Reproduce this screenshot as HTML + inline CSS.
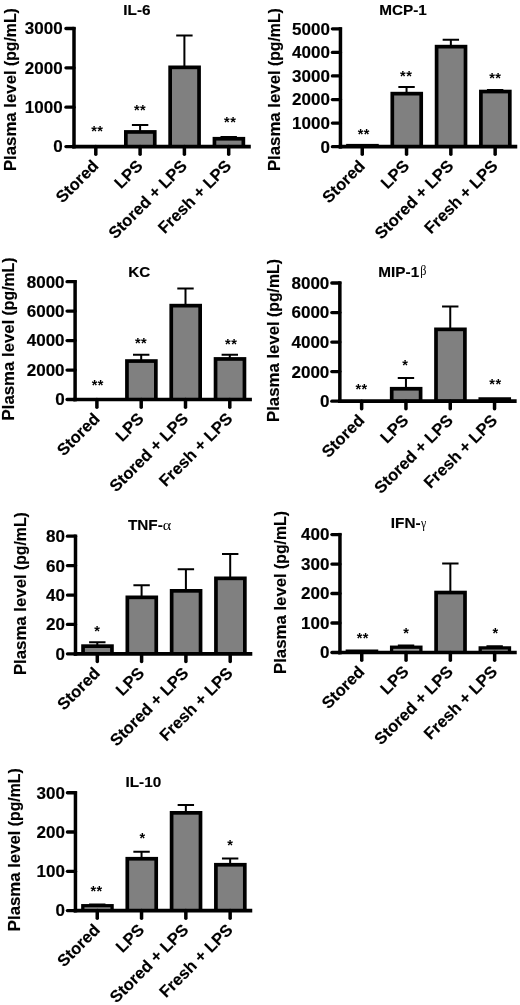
<!DOCTYPE html>
<html><head><meta charset="utf-8"><title>Cytokine plasma levels</title>
<style>
html,body{margin:0;padding:0;background:#fff;overflow:hidden;}
svg{display:block;}
svg text{font-family:"Liberation Sans", Arial, sans-serif;fill:#000;}
.b{font-weight:bold;stroke:#000;stroke-width:0.15px;}
.s{font-weight:bold;}
.n{font-weight:normal;}
</style></head><body>
<svg width="520" height="1005" viewBox="0 0 520 1005">
<rect width="520" height="1005" fill="#fff"/>
<g>
<text class="b" x="136.90" y="15.00" font-size="15.3" text-anchor="middle">IL-6</text>
<text class="b" font-size="16.4" text-anchor="start" transform="translate(16.10,171.10) rotate(-90) scale(1.024,1)">Plasma level</text>
<text class="b" font-size="16.4" text-anchor="end" transform="translate(16.10,8.20) rotate(-90) scale(0.964,1)">(pg/mL)</text>
<text class="s" x="97.30" y="135.60" font-size="14.5" text-anchor="middle" letter-spacing="0.5">**</text>
<path d="M95.80 146.55V154.20" stroke="#000" stroke-width="3.50" stroke-linecap="round"/>
<text class="b" font-size="16.5" text-anchor="end" transform="translate(99.50,166.85) rotate(-45)">Stored</text>
<path d="M140.10 131.10V125.00M131.90 125.00H148.30" stroke="#000" stroke-width="2.0" fill="none"/>
<rect x="124.00" y="130.10" width="32.60" height="16.45" fill="#000"/>
<rect x="127.70" y="133.80" width="25.20" height="11.20" fill="#808080"/>
<text class="s" x="140.10" y="114.50" font-size="14.5" text-anchor="middle" letter-spacing="0.5">**</text>
<path d="M140.10 146.55V154.20" stroke="#000" stroke-width="3.50" stroke-linecap="round"/>
<text class="b" font-size="16.5" text-anchor="end" transform="translate(143.80,166.85) rotate(-45)">LPS</text>
<path d="M184.40 66.50V35.60M176.20 35.60H192.60" stroke="#000" stroke-width="2.0" fill="none"/>
<rect x="168.30" y="65.50" width="32.60" height="81.05" fill="#000"/>
<rect x="172.00" y="69.20" width="25.20" height="75.80" fill="#808080"/>
<path d="M184.40 146.55V154.20" stroke="#000" stroke-width="3.50" stroke-linecap="round"/>
<text class="b" font-size="16.5" text-anchor="end" transform="translate(188.10,166.85) rotate(-45)">Stored + LPS</text>
<path d="M228.70 137.90V137.10M220.50 137.10H236.90" stroke="#000" stroke-width="2.0" fill="none"/>
<rect x="212.60" y="136.90" width="32.60" height="9.65" fill="#000"/>
<rect x="216.30" y="140.60" width="25.20" height="4.40" fill="#808080"/>
<text class="s" x="230.20" y="127.00" font-size="14.5" text-anchor="middle" letter-spacing="0.5">**</text>
<path d="M228.70 146.55V154.20" stroke="#000" stroke-width="3.50" stroke-linecap="round"/>
<text class="b" font-size="16.5" text-anchor="end" transform="translate(232.40,166.85) rotate(-45)">Fresh + LPS</text>
<path d="M74.00 26.85V148.40" stroke="#000" stroke-width="3.50" fill="none"/>
<path d="M72.25 146.55H250.80" stroke="#000" stroke-width="3.70" fill="none"/>
<path d="M65.95 146.55H74.00" stroke="#000" stroke-width="3.30" stroke-linecap="round"/>
<text class="b" font-size="16.0" text-anchor="end" transform="translate(62.70,152.45) scale(1.065,1)">0</text>
<path d="M65.95 107.20H74.00" stroke="#000" stroke-width="3.30" stroke-linecap="round"/>
<text class="b" font-size="16.0" text-anchor="end" transform="translate(62.70,113.10) scale(1.065,1)">1000</text>
<path d="M65.95 67.85H74.00" stroke="#000" stroke-width="3.30" stroke-linecap="round"/>
<text class="b" font-size="16.0" text-anchor="end" transform="translate(62.70,73.75) scale(1.065,1)">2000</text>
<path d="M65.95 28.50H74.00" stroke="#000" stroke-width="3.30" stroke-linecap="round"/>
<text class="b" font-size="16.0" text-anchor="end" transform="translate(62.70,34.40) scale(1.065,1)">3000</text>
</g>
<g>
<text class="b" x="403.00" y="15.00" font-size="15.3" text-anchor="middle">MCP-1</text>
<text class="b" font-size="16.4" text-anchor="start" transform="translate(279.60,171.10) rotate(-90) scale(1.024,1)">Plasma level</text>
<text class="b" font-size="16.4" text-anchor="end" transform="translate(279.60,8.20) rotate(-90) scale(0.964,1)">(pg/mL)</text>
<rect x="346.15" y="143.90" width="32.60" height="2.80" fill="#000"/>
<text class="s" x="363.80" y="139.40" font-size="14.5" text-anchor="middle" letter-spacing="0.5">**</text>
<path d="M362.25 146.70V154.35" stroke="#000" stroke-width="3.50" stroke-linecap="round"/>
<text class="b" font-size="16.5" text-anchor="end" transform="translate(365.95,167.00) rotate(-45)">Stored</text>
<path d="M406.55 92.80V87.00M398.35 87.00H414.75" stroke="#000" stroke-width="2.0" fill="none"/>
<rect x="390.45" y="91.80" width="32.60" height="54.90" fill="#000"/>
<rect x="394.15" y="95.50" width="25.20" height="49.65" fill="#808080"/>
<text class="s" x="406.20" y="81.00" font-size="14.5" text-anchor="middle" letter-spacing="0.5">**</text>
<path d="M406.55 146.70V154.35" stroke="#000" stroke-width="3.50" stroke-linecap="round"/>
<text class="b" font-size="16.5" text-anchor="end" transform="translate(410.25,167.00) rotate(-45)">LPS</text>
<path d="M450.85 45.80V39.70M442.65 39.70H459.05" stroke="#000" stroke-width="2.0" fill="none"/>
<rect x="434.75" y="44.80" width="32.60" height="101.90" fill="#000"/>
<rect x="438.45" y="48.50" width="25.20" height="96.65" fill="#808080"/>
<path d="M450.85 146.70V154.35" stroke="#000" stroke-width="3.50" stroke-linecap="round"/>
<text class="b" font-size="16.5" text-anchor="end" transform="translate(454.55,167.00) rotate(-45)">Stored + LPS</text>
<path d="M495.15 90.70V89.90M486.95 89.90H503.35" stroke="#000" stroke-width="2.0" fill="none"/>
<rect x="479.05" y="89.70" width="32.60" height="57.00" fill="#000"/>
<rect x="482.75" y="93.40" width="25.20" height="51.75" fill="#808080"/>
<text class="s" x="495.30" y="82.70" font-size="14.5" text-anchor="middle" letter-spacing="0.5">**</text>
<path d="M495.15 146.70V154.35" stroke="#000" stroke-width="3.50" stroke-linecap="round"/>
<text class="b" font-size="16.5" text-anchor="end" transform="translate(498.85,167.00) rotate(-45)">Fresh + LPS</text>
<path d="M340.45 27.15V148.55" stroke="#000" stroke-width="3.50" fill="none"/>
<path d="M338.70 146.70H517.25" stroke="#000" stroke-width="3.70" fill="none"/>
<path d="M332.40 146.70H340.45" stroke="#000" stroke-width="3.30" stroke-linecap="round"/>
<text class="b" font-size="16.0" text-anchor="end" transform="translate(329.95,152.60) scale(1.065,1)">0</text>
<path d="M332.40 123.12H340.45" stroke="#000" stroke-width="3.30" stroke-linecap="round"/>
<text class="b" font-size="16.0" text-anchor="end" transform="translate(329.95,129.02) scale(1.065,1)">1000</text>
<path d="M332.40 99.54H340.45" stroke="#000" stroke-width="3.30" stroke-linecap="round"/>
<text class="b" font-size="16.0" text-anchor="end" transform="translate(329.95,105.44) scale(1.065,1)">2000</text>
<path d="M332.40 75.96H340.45" stroke="#000" stroke-width="3.30" stroke-linecap="round"/>
<text class="b" font-size="16.0" text-anchor="end" transform="translate(329.95,81.86) scale(1.065,1)">3000</text>
<path d="M332.40 52.38H340.45" stroke="#000" stroke-width="3.30" stroke-linecap="round"/>
<text class="b" font-size="16.0" text-anchor="end" transform="translate(329.95,58.28) scale(1.065,1)">4000</text>
<path d="M332.40 28.80H340.45" stroke="#000" stroke-width="3.30" stroke-linecap="round"/>
<text class="b" font-size="16.0" text-anchor="end" transform="translate(329.95,34.70) scale(1.065,1)">5000</text>
</g>
<g>
<text class="b" x="139.25" y="277.30" font-size="15.3" text-anchor="middle">KC</text>
<text class="b" font-size="16.4" text-anchor="start" transform="translate(14.30,420.40) rotate(-90) scale(1.024,1)">Plasma level</text>
<text class="b" font-size="16.4" text-anchor="end" transform="translate(14.30,257.50) rotate(-90) scale(0.964,1)">(pg/mL)</text>
<text class="s" x="97.80" y="389.50" font-size="14.5" text-anchor="middle" letter-spacing="0.5">**</text>
<path d="M96.90 399.50V407.15" stroke="#000" stroke-width="3.50" stroke-linecap="round"/>
<text class="b" font-size="16.5" text-anchor="end" transform="translate(100.60,419.80) rotate(-45)">Stored</text>
<path d="M141.20 360.20V354.70M133.00 354.70H149.40" stroke="#000" stroke-width="2.0" fill="none"/>
<rect x="125.10" y="359.20" width="32.60" height="40.30" fill="#000"/>
<rect x="128.80" y="362.90" width="25.20" height="35.05" fill="#808080"/>
<text class="s" x="141.10" y="347.60" font-size="14.5" text-anchor="middle" letter-spacing="0.5">**</text>
<path d="M141.20 399.50V407.15" stroke="#000" stroke-width="3.50" stroke-linecap="round"/>
<text class="b" font-size="16.5" text-anchor="end" transform="translate(144.90,419.80) rotate(-45)">LPS</text>
<path d="M185.50 304.80V288.40M177.30 288.40H193.70" stroke="#000" stroke-width="2.0" fill="none"/>
<rect x="169.40" y="303.80" width="32.60" height="95.70" fill="#000"/>
<rect x="173.10" y="307.50" width="25.20" height="90.45" fill="#808080"/>
<path d="M185.50 399.50V407.15" stroke="#000" stroke-width="3.50" stroke-linecap="round"/>
<text class="b" font-size="16.5" text-anchor="end" transform="translate(189.20,419.80) rotate(-45)">Stored + LPS</text>
<path d="M229.80 358.10V354.70M221.60 354.70H238.00" stroke="#000" stroke-width="2.0" fill="none"/>
<rect x="213.70" y="357.10" width="32.60" height="42.40" fill="#000"/>
<rect x="217.40" y="360.80" width="25.20" height="37.15" fill="#808080"/>
<text class="s" x="231.20" y="348.90" font-size="14.5" text-anchor="middle" letter-spacing="0.5">**</text>
<path d="M229.80 399.50V407.15" stroke="#000" stroke-width="3.50" stroke-linecap="round"/>
<text class="b" font-size="16.5" text-anchor="end" transform="translate(233.50,419.80) rotate(-45)">Fresh + LPS</text>
<path d="M75.10 280.00V401.35" stroke="#000" stroke-width="3.50" fill="none"/>
<path d="M73.35 399.50H251.90" stroke="#000" stroke-width="3.70" fill="none"/>
<path d="M67.05 399.50H75.10" stroke="#000" stroke-width="3.30" stroke-linecap="round"/>
<text class="b" font-size="16.0" text-anchor="end" transform="translate(64.60,405.40) scale(1.065,1)">0</text>
<path d="M67.05 370.04H75.10" stroke="#000" stroke-width="3.30" stroke-linecap="round"/>
<text class="b" font-size="16.0" text-anchor="end" transform="translate(64.60,375.94) scale(1.065,1)">2000</text>
<path d="M67.05 340.57H75.10" stroke="#000" stroke-width="3.30" stroke-linecap="round"/>
<text class="b" font-size="16.0" text-anchor="end" transform="translate(64.60,346.47) scale(1.065,1)">4000</text>
<path d="M67.05 311.11H75.10" stroke="#000" stroke-width="3.30" stroke-linecap="round"/>
<text class="b" font-size="16.0" text-anchor="end" transform="translate(64.60,317.01) scale(1.065,1)">6000</text>
<path d="M67.05 281.65H75.10" stroke="#000" stroke-width="3.30" stroke-linecap="round"/>
<text class="b" font-size="16.0" text-anchor="end" transform="translate(64.60,287.55) scale(1.065,1)">8000</text>
</g>
<g>
<text class="b" x="398.75" y="276.50" font-size="15.3" text-anchor="middle">MIP-1</text>
<text class="n" font-size="14.3" text-anchor="start" style="font-family:&quot;Liberation Serif&quot;,serif" transform="translate(420.30,275.40) scale(0.850,1)">β</text>
<text class="b" font-size="16.4" text-anchor="start" transform="translate(279.30,422.00) rotate(-90) scale(1.024,1)">Plasma level</text>
<text class="b" font-size="16.4" text-anchor="end" transform="translate(279.30,259.10) rotate(-90) scale(0.964,1)">(pg/mL)</text>
<text class="s" x="361.60" y="394.00" font-size="14.5" text-anchor="middle" letter-spacing="0.5">**</text>
<path d="M361.65 401.15V408.80" stroke="#000" stroke-width="3.50" stroke-linecap="round"/>
<text class="b" font-size="16.5" text-anchor="end" transform="translate(365.35,421.45) rotate(-45)">Stored</text>
<path d="M405.95 387.90V378.00M397.75 378.00H414.15" stroke="#000" stroke-width="2.0" fill="none"/>
<rect x="389.85" y="386.90" width="32.60" height="14.25" fill="#000"/>
<rect x="393.55" y="390.60" width="25.20" height="9.00" fill="#808080"/>
<text class="s" x="405.30" y="370.00" font-size="14.5" text-anchor="middle" letter-spacing="0.5">*</text>
<path d="M405.95 401.15V408.80" stroke="#000" stroke-width="3.50" stroke-linecap="round"/>
<text class="b" font-size="16.5" text-anchor="end" transform="translate(409.65,421.45) rotate(-45)">LPS</text>
<path d="M450.25 328.50V306.60M442.05 306.60H458.45" stroke="#000" stroke-width="2.0" fill="none"/>
<rect x="434.15" y="327.50" width="32.60" height="73.65" fill="#000"/>
<rect x="437.85" y="331.20" width="25.20" height="68.40" fill="#808080"/>
<path d="M450.25 401.15V408.80" stroke="#000" stroke-width="3.50" stroke-linecap="round"/>
<text class="b" font-size="16.5" text-anchor="end" transform="translate(453.95,421.45) rotate(-45)">Stored + LPS</text>
<rect x="478.45" y="397.25" width="32.60" height="3.90" fill="#000"/>
<text class="s" x="495.50" y="388.60" font-size="14.5" text-anchor="middle" letter-spacing="0.5">**</text>
<path d="M494.55 401.15V408.80" stroke="#000" stroke-width="3.50" stroke-linecap="round"/>
<text class="b" font-size="16.5" text-anchor="end" transform="translate(498.25,421.45) rotate(-45)">Fresh + LPS</text>
<path d="M339.85 281.35V403.00" stroke="#000" stroke-width="3.50" fill="none"/>
<path d="M338.10 401.15H516.65" stroke="#000" stroke-width="3.70" fill="none"/>
<path d="M331.80 401.15H339.85" stroke="#000" stroke-width="3.30" stroke-linecap="round"/>
<text class="b" font-size="16.0" text-anchor="end" transform="translate(329.35,407.05) scale(1.065,1)">0</text>
<path d="M331.80 371.61H339.85" stroke="#000" stroke-width="3.30" stroke-linecap="round"/>
<text class="b" font-size="16.0" text-anchor="end" transform="translate(329.35,377.51) scale(1.065,1)">2000</text>
<path d="M331.80 342.07H339.85" stroke="#000" stroke-width="3.30" stroke-linecap="round"/>
<text class="b" font-size="16.0" text-anchor="end" transform="translate(329.35,347.97) scale(1.065,1)">4000</text>
<path d="M331.80 312.54H339.85" stroke="#000" stroke-width="3.30" stroke-linecap="round"/>
<text class="b" font-size="16.0" text-anchor="end" transform="translate(329.35,318.44) scale(1.065,1)">6000</text>
<path d="M331.80 283.00H339.85" stroke="#000" stroke-width="3.30" stroke-linecap="round"/>
<text class="b" font-size="16.0" text-anchor="end" transform="translate(329.35,288.90) scale(1.065,1)">8000</text>
</g>
<g>
<text class="b" x="145.35" y="530.40" font-size="15.3" text-anchor="middle">TNF-</text>
<text class="n" font-size="14.0" text-anchor="start" style="font-family:&quot;Liberation Serif&quot;,serif" transform="translate(162.80,530.40) scale(1.150,1)">α</text>
<text class="b" font-size="16.4" text-anchor="start" transform="translate(26.00,675.10) rotate(-90) scale(1.024,1)">Plasma level</text>
<text class="b" font-size="16.4" text-anchor="end" transform="translate(26.00,512.20) rotate(-90) scale(0.964,1)">(pg/mL)</text>
<path d="M97.30 645.30V642.20M89.10 642.20H105.50" stroke="#000" stroke-width="2.0" fill="none"/>
<rect x="81.20" y="644.30" width="32.60" height="9.55" fill="#000"/>
<rect x="84.90" y="648.00" width="25.20" height="4.30" fill="#808080"/>
<text class="s" x="97.40" y="636.20" font-size="14.5" text-anchor="middle" letter-spacing="0.5">*</text>
<path d="M97.30 653.85V661.50" stroke="#000" stroke-width="3.50" stroke-linecap="round"/>
<text class="b" font-size="16.5" text-anchor="end" transform="translate(101.00,674.15) rotate(-45)">Stored</text>
<path d="M141.60 596.50V585.30M133.40 585.30H149.80" stroke="#000" stroke-width="2.0" fill="none"/>
<rect x="125.50" y="595.50" width="32.60" height="58.35" fill="#000"/>
<rect x="129.20" y="599.20" width="25.20" height="53.10" fill="#808080"/>
<path d="M141.60 653.85V661.50" stroke="#000" stroke-width="3.50" stroke-linecap="round"/>
<text class="b" font-size="16.5" text-anchor="end" transform="translate(145.30,674.15) rotate(-45)">LPS</text>
<path d="M185.90 590.00V569.20M177.70 569.20H194.10" stroke="#000" stroke-width="2.0" fill="none"/>
<rect x="169.80" y="589.00" width="32.60" height="64.85" fill="#000"/>
<rect x="173.50" y="592.70" width="25.20" height="59.60" fill="#808080"/>
<path d="M185.90 653.85V661.50" stroke="#000" stroke-width="3.50" stroke-linecap="round"/>
<text class="b" font-size="16.5" text-anchor="end" transform="translate(189.60,674.15) rotate(-45)">Stored + LPS</text>
<path d="M230.20 577.50V553.90M222.00 553.90H238.40" stroke="#000" stroke-width="2.0" fill="none"/>
<rect x="214.10" y="576.50" width="32.60" height="77.35" fill="#000"/>
<rect x="217.80" y="580.20" width="25.20" height="72.10" fill="#808080"/>
<path d="M230.20 653.85V661.50" stroke="#000" stroke-width="3.50" stroke-linecap="round"/>
<text class="b" font-size="16.5" text-anchor="end" transform="translate(233.90,674.15) rotate(-45)">Fresh + LPS</text>
<path d="M75.50 534.55V655.70" stroke="#000" stroke-width="3.50" fill="none"/>
<path d="M73.75 653.85H252.30" stroke="#000" stroke-width="3.70" fill="none"/>
<path d="M67.45 653.85H75.50" stroke="#000" stroke-width="3.30" stroke-linecap="round"/>
<text class="b" font-size="16.0" text-anchor="end" transform="translate(65.00,659.75) scale(1.065,1)">0</text>
<path d="M67.45 624.44H75.50" stroke="#000" stroke-width="3.30" stroke-linecap="round"/>
<text class="b" font-size="16.0" text-anchor="end" transform="translate(65.00,630.34) scale(1.065,1)">20</text>
<path d="M67.45 595.03H75.50" stroke="#000" stroke-width="3.30" stroke-linecap="round"/>
<text class="b" font-size="16.0" text-anchor="end" transform="translate(65.00,600.93) scale(1.065,1)">40</text>
<path d="M67.45 565.61H75.50" stroke="#000" stroke-width="3.30" stroke-linecap="round"/>
<text class="b" font-size="16.0" text-anchor="end" transform="translate(65.00,571.51) scale(1.065,1)">60</text>
<path d="M67.45 536.20H75.50" stroke="#000" stroke-width="3.30" stroke-linecap="round"/>
<text class="b" font-size="16.0" text-anchor="end" transform="translate(65.00,542.10) scale(1.065,1)">80</text>
</g>
<g>
<text class="b" x="405.70" y="527.70" font-size="15.3" text-anchor="middle">IFN-</text>
<text class="n" font-size="14.0" text-anchor="start" style="font-family:&quot;Liberation Serif&quot;,serif" transform="translate(421.00,527.70) scale(0.850,1)">γ</text>
<text class="b" font-size="16.4" text-anchor="start" transform="translate(285.65,674.00) rotate(-90) scale(1.024,1)">Plasma level</text>
<text class="b" font-size="16.4" text-anchor="end" transform="translate(285.65,511.10) rotate(-90) scale(0.964,1)">(pg/mL)</text>
<rect x="345.65" y="649.50" width="32.60" height="3.00" fill="#000"/>
<text class="s" x="362.80" y="642.80" font-size="14.5" text-anchor="middle" letter-spacing="0.5">**</text>
<path d="M361.75 652.50V660.15" stroke="#000" stroke-width="3.50" stroke-linecap="round"/>
<text class="b" font-size="16.5" text-anchor="end" transform="translate(365.45,672.80) rotate(-45)">Stored</text>
<path d="M406.05 646.55V645.40M397.85 645.40H414.25" stroke="#000" stroke-width="2.0" fill="none"/>
<rect x="389.95" y="645.55" width="32.60" height="6.95" fill="#000"/>
<rect x="393.25" y="648.85" width="26.00" height="2.10" fill="#989898"/>
<text class="s" x="406.30" y="638.00" font-size="14.5" text-anchor="middle" letter-spacing="0.5">*</text>
<path d="M406.05 652.50V660.15" stroke="#000" stroke-width="3.50" stroke-linecap="round"/>
<text class="b" font-size="16.5" text-anchor="end" transform="translate(409.75,672.80) rotate(-45)">LPS</text>
<path d="M450.35 591.70V563.50M442.15 563.50H458.55" stroke="#000" stroke-width="2.0" fill="none"/>
<rect x="434.25" y="590.70" width="32.60" height="61.80" fill="#000"/>
<rect x="437.95" y="594.40" width="25.20" height="56.55" fill="#808080"/>
<path d="M450.35 652.50V660.15" stroke="#000" stroke-width="3.50" stroke-linecap="round"/>
<text class="b" font-size="16.5" text-anchor="end" transform="translate(454.05,672.80) rotate(-45)">Stored + LPS</text>
<path d="M494.65 647.25V646.30M486.45 646.30H502.85" stroke="#000" stroke-width="2.0" fill="none"/>
<rect x="478.55" y="646.25" width="32.60" height="6.25" fill="#000"/>
<rect x="481.85" y="649.55" width="26.00" height="1.40" fill="#989898"/>
<text class="s" x="495.70" y="637.50" font-size="14.5" text-anchor="middle" letter-spacing="0.5">*</text>
<path d="M494.65 652.50V660.15" stroke="#000" stroke-width="3.50" stroke-linecap="round"/>
<text class="b" font-size="16.5" text-anchor="end" transform="translate(498.35,672.80) rotate(-45)">Fresh + LPS</text>
<path d="M339.95 532.90V654.35" stroke="#000" stroke-width="3.50" fill="none"/>
<path d="M338.20 652.50H516.75" stroke="#000" stroke-width="3.70" fill="none"/>
<path d="M331.90 652.50H339.95" stroke="#000" stroke-width="3.30" stroke-linecap="round"/>
<text class="b" font-size="16.0" text-anchor="end" transform="translate(329.45,658.40) scale(1.065,1)">0</text>
<path d="M331.90 623.01H339.95" stroke="#000" stroke-width="3.30" stroke-linecap="round"/>
<text class="b" font-size="16.0" text-anchor="end" transform="translate(329.45,628.91) scale(1.065,1)">100</text>
<path d="M331.90 593.52H339.95" stroke="#000" stroke-width="3.30" stroke-linecap="round"/>
<text class="b" font-size="16.0" text-anchor="end" transform="translate(329.45,599.42) scale(1.065,1)">200</text>
<path d="M331.90 564.04H339.95" stroke="#000" stroke-width="3.30" stroke-linecap="round"/>
<text class="b" font-size="16.0" text-anchor="end" transform="translate(329.45,569.94) scale(1.065,1)">300</text>
<path d="M331.90 534.55H339.95" stroke="#000" stroke-width="3.30" stroke-linecap="round"/>
<text class="b" font-size="16.0" text-anchor="end" transform="translate(329.45,540.45) scale(1.065,1)">400</text>
</g>
<g>
<text class="b" x="143.30" y="787.00" font-size="15.3" text-anchor="middle">IL-10</text>
<text class="b" font-size="16.4" text-anchor="start" transform="translate(19.90,931.20) rotate(-90) scale(1.024,1)">Plasma level</text>
<text class="b" font-size="16.4" text-anchor="end" transform="translate(19.90,768.30) rotate(-90) scale(0.964,1)">(pg/mL)</text>
<path d="M97.25 905.05V904.60M89.05 904.60H105.45" stroke="#000" stroke-width="2.0" fill="none"/>
<rect x="81.15" y="904.05" width="32.60" height="6.50" fill="#000"/>
<rect x="84.45" y="907.35" width="26.00" height="1.65" fill="#989898"/>
<text class="s" x="96.60" y="895.80" font-size="14.5" text-anchor="middle" letter-spacing="0.5">**</text>
<path d="M97.25 910.55V918.20" stroke="#000" stroke-width="3.50" stroke-linecap="round"/>
<text class="b" font-size="16.5" text-anchor="end" transform="translate(100.95,930.85) rotate(-45)">Stored</text>
<path d="M141.55 857.90V851.80M133.35 851.80H149.75" stroke="#000" stroke-width="2.0" fill="none"/>
<rect x="125.45" y="856.90" width="32.60" height="53.65" fill="#000"/>
<rect x="129.15" y="860.60" width="25.20" height="48.40" fill="#808080"/>
<text class="s" x="142.50" y="843.40" font-size="14.5" text-anchor="middle" letter-spacing="0.5">*</text>
<path d="M141.55 910.55V918.20" stroke="#000" stroke-width="3.50" stroke-linecap="round"/>
<text class="b" font-size="16.5" text-anchor="end" transform="translate(145.25,930.85) rotate(-45)">LPS</text>
<path d="M185.85 812.00V805.00M177.65 805.00H194.05" stroke="#000" stroke-width="2.0" fill="none"/>
<rect x="169.75" y="811.00" width="32.60" height="99.55" fill="#000"/>
<rect x="173.45" y="814.70" width="25.20" height="94.30" fill="#808080"/>
<path d="M185.85 910.55V918.20" stroke="#000" stroke-width="3.50" stroke-linecap="round"/>
<text class="b" font-size="16.5" text-anchor="end" transform="translate(189.55,930.85) rotate(-45)">Stored + LPS</text>
<path d="M230.15 863.90V858.60M221.95 858.60H238.35" stroke="#000" stroke-width="2.0" fill="none"/>
<rect x="214.05" y="862.90" width="32.60" height="47.65" fill="#000"/>
<rect x="217.75" y="866.60" width="25.20" height="42.40" fill="#808080"/>
<text class="s" x="230.40" y="850.20" font-size="14.5" text-anchor="middle" letter-spacing="0.5">*</text>
<path d="M230.15 910.55V918.20" stroke="#000" stroke-width="3.50" stroke-linecap="round"/>
<text class="b" font-size="16.5" text-anchor="end" transform="translate(233.85,930.85) rotate(-45)">Fresh + LPS</text>
<path d="M75.45 791.10V912.40" stroke="#000" stroke-width="3.50" fill="none"/>
<path d="M73.70 910.55H252.25" stroke="#000" stroke-width="3.70" fill="none"/>
<path d="M67.40 910.55H75.45" stroke="#000" stroke-width="3.30" stroke-linecap="round"/>
<text class="b" font-size="16.0" text-anchor="end" transform="translate(64.95,916.45) scale(1.065,1)">0</text>
<path d="M67.40 871.28H75.45" stroke="#000" stroke-width="3.30" stroke-linecap="round"/>
<text class="b" font-size="16.0" text-anchor="end" transform="translate(64.95,877.18) scale(1.065,1)">100</text>
<path d="M67.40 832.02H75.45" stroke="#000" stroke-width="3.30" stroke-linecap="round"/>
<text class="b" font-size="16.0" text-anchor="end" transform="translate(64.95,837.92) scale(1.065,1)">200</text>
<path d="M67.40 792.75H75.45" stroke="#000" stroke-width="3.30" stroke-linecap="round"/>
<text class="b" font-size="16.0" text-anchor="end" transform="translate(64.95,798.65) scale(1.065,1)">300</text>
</g>
</svg>
</body></html>
